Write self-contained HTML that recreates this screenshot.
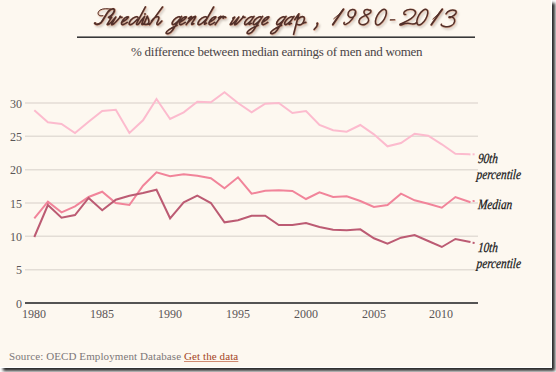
<!DOCTYPE html>
<html><head><meta charset="utf-8">
<style>
html,body{margin:0;padding:0;}
body{width:556px;height:372px;overflow:hidden;background:#fff;position:relative;font-family:"Liberation Serif",serif;}
#card{position:absolute;left:0;top:0;width:551px;height:367px;background:#fdf8f0;border-right:1px solid #fff;border-bottom:1px solid #fff;box-shadow:3px 3px 3px rgba(0,0,0,0.85);}
.t{position:absolute;white-space:nowrap;}
#rule{position:absolute;left:77px;top:37px;width:398px;height:1px;background:#383838;box-shadow:0 -1px 0 rgba(60,60,60,0.6);}
#sub{left:131px;top:43.5px;font-size:13px;letter-spacing:-0.26px;color:#4a4446;}
.yl{font-size:12px;color:#5a5657;text-align:right;width:30px;}
.xl{font-size:12px;color:#5a5657;text-align:center;width:40px;}
.lab{font-size:14px;font-style:italic;color:#161616;-webkit-text-stroke:0.25px #161616;line-height:16px;transform-origin:0 20px;transform:scaleX(0.8) skewX(-6deg);}
#src{left:9px;top:350px;font-size:11px;color:#7c7778;letter-spacing:0.1px;}
#src a{color:#a4461f;text-decoration:underline;text-decoration-color:rgba(200,120,90,0.85);text-underline-offset:1px;}
</style></head><body>
<div id="card"></div>
<svg width="556" height="40" style="position:absolute;left:0;top:0" fill="none" stroke-linecap="round" stroke-linejoin="round">
<g transform="translate(1.5,2)" stroke="rgba(60,40,30,0.28)" style="filter:blur(1px)">
<path d="M332.8,24.6 L343.4,9.2" stroke-width="1.9"/>
<path d="M343.4,9.2 Q338.5,15.5 333.8,18.7" stroke-width="0.8"/>
<path d="M355.6,11.2 C354.6,8.6 350,8.8 348.4,12.2 C347,15.6 349.4,18.2 352.2,17.4 C354.8,16.6 356.2,13.4 355.6,11.2 C355.2,16.5 350.5,22.2 346.2,24.2 C344.6,24.9 343.2,24 344.2,22.4" stroke-width="1.45"/>
<path d="M369.2,10.2 C367.2,8.6 363.6,9.6 364,12.6 C364.5,15.4 369.2,16.8 368.6,20.6 C368.1,24.1 363.2,25.6 360.4,24.1 C357.9,22.6 358.6,19.1 362,17.1 C365.2,15.2 370.6,14.1 370.9,11.6 C371.1,9.9 370.1,9.6 369.2,10.2" stroke-width="1.45"/>
<ellipse cx="380.9" cy="17.1" rx="3.9" ry="8.7" transform="rotate(30 380.9 17.1)" stroke-width="1.45"/>
<path d="M390.3,19.9 L394.7,19.7" stroke-width="1.1"/>
<path d="M405.6,14.4 C403.6,15 403.1,12.6 405,11.2 C407.6,9.2 412.2,8.6 414.6,10.6 C416.8,12.6 415,15.8 411,18.6 C407,21.4 402.2,23 400.4,24 C399.2,24.7 400,25.4 401.8,24.7 C404.5,23.6 407.2,22.8 410.2,23.6 C412.8,24.4 414.8,24.2 416.6,22.6" stroke-width="1.45"/>
<ellipse cx="422.3" cy="17.1" rx="3.9" ry="8.7" transform="rotate(30 422.3 17.1)" stroke-width="1.45"/>
<path d="M431.3,24.7 L442.2,9.2" stroke-width="1.9"/>
<path d="M442.2,9.2 Q437.4,15.4 432.9,19" stroke-width="0.8"/>
<path d="M446,13.9 C447.6,10.6 452.2,9.2 455.1,10.5 C457.8,11.8 455.2,15.6 450.6,17.3 C448.9,17.9 448.4,17.1 449.6,16.7 C453.1,16.5 455.2,18.6 454.6,21.6 C454,25.1 449.6,27.3 445.6,26.7 C442.6,26.3 440.5,25.3 441.4,24.2" stroke-width="1.45"/>
<path d="M109.9,18.2  C111.0,17.2 111.9,16.8 111.5,17.4  L107.3,24.1  C107.0,24.9 107.9,24.8 109.1,24.0  C111.0,22.6 113.6,19.6 115.8,17.0  L111.7,24.0  C111.4,24.9 112.3,24.8 113.5,24.0  C115.4,22.6 118.0,19.6 120.2,17.0  C120.9,16.0 119.8,16.2 119.8,17.0  C120.0,17.6 121.1,17.4 122.0,17.2 M121.5,22.6  C124.2,21.0 127.8,18.6 128.3,17.2  C128.8,16.0 125.3,17.0 123.0,20.0  C120.9,22.8 121.1,24.9 122.9,24.6  C124.2,24.4 125.6,23.6 127.2,22.4 M137.9,17.4  C137.6,16.2 133.9,16.4 130.9,20.0  C128.7,22.8 128.6,24.9 130.4,24.6  C132.2,24.3 135.2,21.6 137.4,19.2 M145.4,6.9 L136.6,23.4 C136.1,24.7 137.2,25 138.6,23.8 C140,22.6 141.6,20 143,18.2 C143.8,17.4 144.3,16.8 144.6,16.3 L141.9,23.6 C141.6,24.6 142.4,24.8 143.6,24 C145,22.6 146.4,17.8 147.3,16.2 C147.6,18 149.4,19.8 148.8,22.2 C148.3,24.2 145.8,25 144.3,24.1 C146,24.6 148,24.4 149.6,23.6 M162.5,7 L149.6,24.6 M151.4,21.2 C153.5,18 156.5,16.5 158.2,16.8 C159.6,17.2 158.5,20 157.2,22.4 C156.4,24.2 157,25.2 158.6,24.2 C159.8,23.4 161,22 161.8,21 M180.1,17.4  C180.0,16.2 176.7,16.4 173.8,20.0  C171.6,22.8 171.6,24.9 173.4,24.6  C175.0,24.3 177.4,22.0 179.4,19.6  M181.5,16.4  L172.5,30.2  C170.0,33.8 166.3,34.4 166.1,32.8  C166.1,31.4 170.7,28.2 177.1,25.2 M179.5,22.6  C182.2,21.0 185.8,18.6 186.3,17.2  C186.8,16.0 183.3,17.0 181.0,20.0  C178.9,22.8 179.1,24.9 180.9,24.6  C182.2,24.4 183.6,23.6 185.2,22.4 M188.6,18.4  C189.8,17.2 191.4,16.2 191.5,16.6  L186.2,24.6  C188.8,21.2 193.6,16.6 195.3,16.4  C196.5,16.3 193.5,20.6 192.0,23.0  C191.0,24.8 192.1,24.8 193.7,23.6 M206.7,17.4  C206.4,16.2 202.7,16.4 199.7,20.0  C197.5,22.8 197.4,24.9 199.2,24.6  C201.0,24.3 204.0,21.6 206.2,19.2  M213.6,7.0  L205.3,21.6  C203.8,24.2 204.0,25.0 206.5,23.2 M209.0,22.6  C211.7,21.0 215.3,18.6 215.8,17.2  C216.3,16.0 212.8,17.0 210.5,20.0  C208.4,22.8 208.6,24.9 210.4,24.6  C211.7,24.4 213.1,23.6 214.7,22.4 M218.5,17.8  C219.8,17.0 220.8,16.2 220.9,16.4  L215.2,24.6  M219.0,19.2  C220.5,17.4 222.4,16.2 223.5,16.4  C224.2,16.6 224.1,17.4 223.6,18.0  C223.2,18.4 222.8,18.0 223.5,17.4  C224.5,16.8 225.4,17.0 225.7,17.4 M232.9,18.2  C234.0,17.2 234.9,16.8 234.5,17.4  L230.3,24.1  C230.0,24.9 230.9,24.8 232.1,24.0  C234.0,22.6 236.6,19.6 238.8,17.0  L234.7,24.0  C234.4,24.9 235.3,24.8 236.5,24.0  C238.4,22.6 241.0,19.6 243.2,17.0  C243.9,16.0 242.8,16.2 242.8,17.0  C243.0,17.6 244.1,17.4 245.0,17.2 M252.8,17.4  C252.7,16.2 249.2,16.4 246.3,20.0  C244.1,22.8 244.1,24.9 245.9,24.6  C247.5,24.3 249.9,22.0 251.9,19.6  M254.0,16.4  L249.7,22.6  C248.3,24.7 248.9,25.0 251.3,23.4 M261.1,17.4  C261.0,16.2 257.7,16.4 254.8,20.0  C252.6,22.8 252.6,24.9 254.4,24.6  C256.0,24.3 258.4,22.0 260.4,19.6  M262.5,16.4  L253.5,30.2  C251.0,33.8 247.3,34.4 247.1,32.8  C247.1,31.4 251.7,28.2 258.1,25.2 M262.0,22.6  C264.7,21.0 268.3,18.6 268.8,17.2  C269.3,16.0 265.8,17.0 263.5,20.0  C261.4,22.8 261.6,24.9 263.4,24.6  C264.7,24.4 266.1,23.6 267.7,22.4 M284.6,17.4  C284.5,16.2 281.2,16.4 278.3,20.0  C276.1,22.8 276.1,24.9 277.9,24.6  C279.5,24.3 281.9,22.0 283.9,19.6  M286.0,16.4  L277.0,30.2  C274.5,33.8 270.8,34.4 270.6,32.8  C270.6,31.4 275.2,28.2 281.6,25.2 M292.8,17.4  C292.7,16.2 289.2,16.4 286.3,20.0  C284.1,22.8 284.1,24.9 285.9,24.6  C287.5,24.3 289.9,22.0 291.9,19.6  M294.0,16.4  L289.7,22.6  C288.3,24.7 288.9,25.0 291.3,23.4 M294.8,19.6 C296,17.8 297.8,15 298.9,13.8 C297.5,19 295,29 293.6,34.2 M297.6,19.5 C299.5,17 302.5,16 303.8,17 C305,18 304,22 302,23.8 C300.5,25 298.5,25 297,24.2 M302.5,23.6 C303.5,23 305,22.5 305.8,22.4 M317.4,23.2 C317.8,25 316.5,27.5 314.2,29.4" stroke-width="1.6"/><path d="M94.7,23.3 C95.8,25 98.5,24.6 101.2,22.4 C103.5,20 105.8,14.6 108.3,11.5 C110,9.6 112.4,8.6 113.8,9 C115,9.6 114.4,12 112.5,14.4 C111.4,15.8 110,16.8 108.6,17.3" stroke-width="1.9"/><path d="M110.6,9.1 C107.6,8.5 103,8.4 100.2,10 C97.8,11.5 97.4,14.2 99.2,15.3 C100.4,16 101.8,15.9 102.8,15.6" stroke-width="1.0"/><circle cx="145.0" cy="14.0" r="0.9" stroke="none" fill="rgba(60,40,30,0.28)"/><circle cx="317.2" cy="23.4" r="0.9" stroke="none" fill="rgba(60,40,30,0.28)"/><circle cx="95.3" cy="23.1" r="0.9" stroke="none" fill="rgba(60,40,30,0.28)"/></g>
<g stroke="rgba(215,140,105,0.55)" transform="translate(0.3,0.3)">
<path d="M332.8,24.6 L343.4,9.2" stroke-width="2.6"/>
<path d="M343.4,9.2 Q338.5,15.5 333.8,18.7" stroke-width="1.4"/>
<path d="M355.6,11.2 C354.6,8.6 350,8.8 348.4,12.2 C347,15.6 349.4,18.2 352.2,17.4 C354.8,16.6 356.2,13.4 355.6,11.2 C355.2,16.5 350.5,22.2 346.2,24.2 C344.6,24.9 343.2,24 344.2,22.4" stroke-width="2.2"/>
<path d="M369.2,10.2 C367.2,8.6 363.6,9.6 364,12.6 C364.5,15.4 369.2,16.8 368.6,20.6 C368.1,24.1 363.2,25.6 360.4,24.1 C357.9,22.6 358.6,19.1 362,17.1 C365.2,15.2 370.6,14.1 370.9,11.6 C371.1,9.9 370.1,9.6 369.2,10.2" stroke-width="2.2"/>
<ellipse cx="380.9" cy="17.1" rx="3.9" ry="8.7" transform="rotate(30 380.9 17.1)" stroke-width="2.2"/>
<path d="M390.3,19.9 L394.7,19.7" stroke-width="1.8"/>
<path d="M405.6,14.4 C403.6,15 403.1,12.6 405,11.2 C407.6,9.2 412.2,8.6 414.6,10.6 C416.8,12.6 415,15.8 411,18.6 C407,21.4 402.2,23 400.4,24 C399.2,24.7 400,25.4 401.8,24.7 C404.5,23.6 407.2,22.8 410.2,23.6 C412.8,24.4 414.8,24.2 416.6,22.6" stroke-width="2.2"/>
<ellipse cx="422.3" cy="17.1" rx="3.9" ry="8.7" transform="rotate(30 422.3 17.1)" stroke-width="2.2"/>
<path d="M431.3,24.7 L442.2,9.2" stroke-width="2.6"/>
<path d="M442.2,9.2 Q437.4,15.4 432.9,19" stroke-width="1.4"/>
<path d="M446,13.9 C447.6,10.6 452.2,9.2 455.1,10.5 C457.8,11.8 455.2,15.6 450.6,17.3 C448.9,17.9 448.4,17.1 449.6,16.7 C453.1,16.5 455.2,18.6 454.6,21.6 C454,25.1 449.6,27.3 445.6,26.7 C442.6,26.3 440.5,25.3 441.4,24.2" stroke-width="2.2"/>
<path d="M109.9,18.2  C111.0,17.2 111.9,16.8 111.5,17.4  L107.3,24.1  C107.0,24.9 107.9,24.8 109.1,24.0  C111.0,22.6 113.6,19.6 115.8,17.0  L111.7,24.0  C111.4,24.9 112.3,24.8 113.5,24.0  C115.4,22.6 118.0,19.6 120.2,17.0  C120.9,16.0 119.8,16.2 119.8,17.0  C120.0,17.6 121.1,17.4 122.0,17.2 M121.5,22.6  C124.2,21.0 127.8,18.6 128.3,17.2  C128.8,16.0 125.3,17.0 123.0,20.0  C120.9,22.8 121.1,24.9 122.9,24.6  C124.2,24.4 125.6,23.6 127.2,22.4 M137.9,17.4  C137.6,16.2 133.9,16.4 130.9,20.0  C128.7,22.8 128.6,24.9 130.4,24.6  C132.2,24.3 135.2,21.6 137.4,19.2 M145.4,6.9 L136.6,23.4 C136.1,24.7 137.2,25 138.6,23.8 C140,22.6 141.6,20 143,18.2 C143.8,17.4 144.3,16.8 144.6,16.3 L141.9,23.6 C141.6,24.6 142.4,24.8 143.6,24 C145,22.6 146.4,17.8 147.3,16.2 C147.6,18 149.4,19.8 148.8,22.2 C148.3,24.2 145.8,25 144.3,24.1 C146,24.6 148,24.4 149.6,23.6 M162.5,7 L149.6,24.6 M151.4,21.2 C153.5,18 156.5,16.5 158.2,16.8 C159.6,17.2 158.5,20 157.2,22.4 C156.4,24.2 157,25.2 158.6,24.2 C159.8,23.4 161,22 161.8,21 M180.1,17.4  C180.0,16.2 176.7,16.4 173.8,20.0  C171.6,22.8 171.6,24.9 173.4,24.6  C175.0,24.3 177.4,22.0 179.4,19.6  M181.5,16.4  L172.5,30.2  C170.0,33.8 166.3,34.4 166.1,32.8  C166.1,31.4 170.7,28.2 177.1,25.2 M179.5,22.6  C182.2,21.0 185.8,18.6 186.3,17.2  C186.8,16.0 183.3,17.0 181.0,20.0  C178.9,22.8 179.1,24.9 180.9,24.6  C182.2,24.4 183.6,23.6 185.2,22.4 M188.6,18.4  C189.8,17.2 191.4,16.2 191.5,16.6  L186.2,24.6  C188.8,21.2 193.6,16.6 195.3,16.4  C196.5,16.3 193.5,20.6 192.0,23.0  C191.0,24.8 192.1,24.8 193.7,23.6 M206.7,17.4  C206.4,16.2 202.7,16.4 199.7,20.0  C197.5,22.8 197.4,24.9 199.2,24.6  C201.0,24.3 204.0,21.6 206.2,19.2  M213.6,7.0  L205.3,21.6  C203.8,24.2 204.0,25.0 206.5,23.2 M209.0,22.6  C211.7,21.0 215.3,18.6 215.8,17.2  C216.3,16.0 212.8,17.0 210.5,20.0  C208.4,22.8 208.6,24.9 210.4,24.6  C211.7,24.4 213.1,23.6 214.7,22.4 M218.5,17.8  C219.8,17.0 220.8,16.2 220.9,16.4  L215.2,24.6  M219.0,19.2  C220.5,17.4 222.4,16.2 223.5,16.4  C224.2,16.6 224.1,17.4 223.6,18.0  C223.2,18.4 222.8,18.0 223.5,17.4  C224.5,16.8 225.4,17.0 225.7,17.4 M232.9,18.2  C234.0,17.2 234.9,16.8 234.5,17.4  L230.3,24.1  C230.0,24.9 230.9,24.8 232.1,24.0  C234.0,22.6 236.6,19.6 238.8,17.0  L234.7,24.0  C234.4,24.9 235.3,24.8 236.5,24.0  C238.4,22.6 241.0,19.6 243.2,17.0  C243.9,16.0 242.8,16.2 242.8,17.0  C243.0,17.6 244.1,17.4 245.0,17.2 M252.8,17.4  C252.7,16.2 249.2,16.4 246.3,20.0  C244.1,22.8 244.1,24.9 245.9,24.6  C247.5,24.3 249.9,22.0 251.9,19.6  M254.0,16.4  L249.7,22.6  C248.3,24.7 248.9,25.0 251.3,23.4 M261.1,17.4  C261.0,16.2 257.7,16.4 254.8,20.0  C252.6,22.8 252.6,24.9 254.4,24.6  C256.0,24.3 258.4,22.0 260.4,19.6  M262.5,16.4  L253.5,30.2  C251.0,33.8 247.3,34.4 247.1,32.8  C247.1,31.4 251.7,28.2 258.1,25.2 M262.0,22.6  C264.7,21.0 268.3,18.6 268.8,17.2  C269.3,16.0 265.8,17.0 263.5,20.0  C261.4,22.8 261.6,24.9 263.4,24.6  C264.7,24.4 266.1,23.6 267.7,22.4 M284.6,17.4  C284.5,16.2 281.2,16.4 278.3,20.0  C276.1,22.8 276.1,24.9 277.9,24.6  C279.5,24.3 281.9,22.0 283.9,19.6  M286.0,16.4  L277.0,30.2  C274.5,33.8 270.8,34.4 270.6,32.8  C270.6,31.4 275.2,28.2 281.6,25.2 M292.8,17.4  C292.7,16.2 289.2,16.4 286.3,20.0  C284.1,22.8 284.1,24.9 285.9,24.6  C287.5,24.3 289.9,22.0 291.9,19.6  M294.0,16.4  L289.7,22.6  C288.3,24.7 288.9,25.0 291.3,23.4 M294.8,19.6 C296,17.8 297.8,15 298.9,13.8 C297.5,19 295,29 293.6,34.2 M297.6,19.5 C299.5,17 302.5,16 303.8,17 C305,18 304,22 302,23.8 C300.5,25 298.5,25 297,24.2 M302.5,23.6 C303.5,23 305,22.5 305.8,22.4 M317.4,23.2 C317.8,25 316.5,27.5 314.2,29.4" stroke-width="2.4000000000000004"/><path d="M94.7,23.3 C95.8,25 98.5,24.6 101.2,22.4 C103.5,20 105.8,14.6 108.3,11.5 C110,9.6 112.4,8.6 113.8,9 C115,9.6 114.4,12 112.5,14.4 C111.4,15.8 110,16.8 108.6,17.3" stroke-width="2.7"/><path d="M110.6,9.1 C107.6,8.5 103,8.4 100.2,10 C97.8,11.5 97.4,14.2 99.2,15.3 C100.4,16 101.8,15.9 102.8,15.6" stroke-width="1.8"/><circle cx="145.0" cy="14.0" r="1.3" stroke="none" fill="rgba(215,140,105,0.55)"/><circle cx="317.2" cy="23.4" r="1.3" stroke="none" fill="rgba(215,140,105,0.55)"/><circle cx="95.3" cy="23.1" r="1.3" stroke="none" fill="rgba(215,140,105,0.55)"/></g>
<g stroke="#52302a">
<path d="M332.8,24.6 L343.4,9.2" stroke-width="1.9"/>
<path d="M343.4,9.2 Q338.5,15.5 333.8,18.7" stroke-width="0.8"/>
<path d="M355.6,11.2 C354.6,8.6 350,8.8 348.4,12.2 C347,15.6 349.4,18.2 352.2,17.4 C354.8,16.6 356.2,13.4 355.6,11.2 C355.2,16.5 350.5,22.2 346.2,24.2 C344.6,24.9 343.2,24 344.2,22.4" stroke-width="1.45"/>
<path d="M369.2,10.2 C367.2,8.6 363.6,9.6 364,12.6 C364.5,15.4 369.2,16.8 368.6,20.6 C368.1,24.1 363.2,25.6 360.4,24.1 C357.9,22.6 358.6,19.1 362,17.1 C365.2,15.2 370.6,14.1 370.9,11.6 C371.1,9.9 370.1,9.6 369.2,10.2" stroke-width="1.45"/>
<ellipse cx="380.9" cy="17.1" rx="3.9" ry="8.7" transform="rotate(30 380.9 17.1)" stroke-width="1.45"/>
<path d="M390.3,19.9 L394.7,19.7" stroke-width="1.1"/>
<path d="M405.6,14.4 C403.6,15 403.1,12.6 405,11.2 C407.6,9.2 412.2,8.6 414.6,10.6 C416.8,12.6 415,15.8 411,18.6 C407,21.4 402.2,23 400.4,24 C399.2,24.7 400,25.4 401.8,24.7 C404.5,23.6 407.2,22.8 410.2,23.6 C412.8,24.4 414.8,24.2 416.6,22.6" stroke-width="1.45"/>
<ellipse cx="422.3" cy="17.1" rx="3.9" ry="8.7" transform="rotate(30 422.3 17.1)" stroke-width="1.45"/>
<path d="M431.3,24.7 L442.2,9.2" stroke-width="1.9"/>
<path d="M442.2,9.2 Q437.4,15.4 432.9,19" stroke-width="0.8"/>
<path d="M446,13.9 C447.6,10.6 452.2,9.2 455.1,10.5 C457.8,11.8 455.2,15.6 450.6,17.3 C448.9,17.9 448.4,17.1 449.6,16.7 C453.1,16.5 455.2,18.6 454.6,21.6 C454,25.1 449.6,27.3 445.6,26.7 C442.6,26.3 440.5,25.3 441.4,24.2" stroke-width="1.45"/>
<path d="M109.9,18.2  C111.0,17.2 111.9,16.8 111.5,17.4  L107.3,24.1  C107.0,24.9 107.9,24.8 109.1,24.0  C111.0,22.6 113.6,19.6 115.8,17.0  L111.7,24.0  C111.4,24.9 112.3,24.8 113.5,24.0  C115.4,22.6 118.0,19.6 120.2,17.0  C120.9,16.0 119.8,16.2 119.8,17.0  C120.0,17.6 121.1,17.4 122.0,17.2 M121.5,22.6  C124.2,21.0 127.8,18.6 128.3,17.2  C128.8,16.0 125.3,17.0 123.0,20.0  C120.9,22.8 121.1,24.9 122.9,24.6  C124.2,24.4 125.6,23.6 127.2,22.4 M137.9,17.4  C137.6,16.2 133.9,16.4 130.9,20.0  C128.7,22.8 128.6,24.9 130.4,24.6  C132.2,24.3 135.2,21.6 137.4,19.2 M145.4,6.9 L136.6,23.4 C136.1,24.7 137.2,25 138.6,23.8 C140,22.6 141.6,20 143,18.2 C143.8,17.4 144.3,16.8 144.6,16.3 L141.9,23.6 C141.6,24.6 142.4,24.8 143.6,24 C145,22.6 146.4,17.8 147.3,16.2 C147.6,18 149.4,19.8 148.8,22.2 C148.3,24.2 145.8,25 144.3,24.1 C146,24.6 148,24.4 149.6,23.6 M162.5,7 L149.6,24.6 M151.4,21.2 C153.5,18 156.5,16.5 158.2,16.8 C159.6,17.2 158.5,20 157.2,22.4 C156.4,24.2 157,25.2 158.6,24.2 C159.8,23.4 161,22 161.8,21 M180.1,17.4  C180.0,16.2 176.7,16.4 173.8,20.0  C171.6,22.8 171.6,24.9 173.4,24.6  C175.0,24.3 177.4,22.0 179.4,19.6  M181.5,16.4  L172.5,30.2  C170.0,33.8 166.3,34.4 166.1,32.8  C166.1,31.4 170.7,28.2 177.1,25.2 M179.5,22.6  C182.2,21.0 185.8,18.6 186.3,17.2  C186.8,16.0 183.3,17.0 181.0,20.0  C178.9,22.8 179.1,24.9 180.9,24.6  C182.2,24.4 183.6,23.6 185.2,22.4 M188.6,18.4  C189.8,17.2 191.4,16.2 191.5,16.6  L186.2,24.6  C188.8,21.2 193.6,16.6 195.3,16.4  C196.5,16.3 193.5,20.6 192.0,23.0  C191.0,24.8 192.1,24.8 193.7,23.6 M206.7,17.4  C206.4,16.2 202.7,16.4 199.7,20.0  C197.5,22.8 197.4,24.9 199.2,24.6  C201.0,24.3 204.0,21.6 206.2,19.2  M213.6,7.0  L205.3,21.6  C203.8,24.2 204.0,25.0 206.5,23.2 M209.0,22.6  C211.7,21.0 215.3,18.6 215.8,17.2  C216.3,16.0 212.8,17.0 210.5,20.0  C208.4,22.8 208.6,24.9 210.4,24.6  C211.7,24.4 213.1,23.6 214.7,22.4 M218.5,17.8  C219.8,17.0 220.8,16.2 220.9,16.4  L215.2,24.6  M219.0,19.2  C220.5,17.4 222.4,16.2 223.5,16.4  C224.2,16.6 224.1,17.4 223.6,18.0  C223.2,18.4 222.8,18.0 223.5,17.4  C224.5,16.8 225.4,17.0 225.7,17.4 M232.9,18.2  C234.0,17.2 234.9,16.8 234.5,17.4  L230.3,24.1  C230.0,24.9 230.9,24.8 232.1,24.0  C234.0,22.6 236.6,19.6 238.8,17.0  L234.7,24.0  C234.4,24.9 235.3,24.8 236.5,24.0  C238.4,22.6 241.0,19.6 243.2,17.0  C243.9,16.0 242.8,16.2 242.8,17.0  C243.0,17.6 244.1,17.4 245.0,17.2 M252.8,17.4  C252.7,16.2 249.2,16.4 246.3,20.0  C244.1,22.8 244.1,24.9 245.9,24.6  C247.5,24.3 249.9,22.0 251.9,19.6  M254.0,16.4  L249.7,22.6  C248.3,24.7 248.9,25.0 251.3,23.4 M261.1,17.4  C261.0,16.2 257.7,16.4 254.8,20.0  C252.6,22.8 252.6,24.9 254.4,24.6  C256.0,24.3 258.4,22.0 260.4,19.6  M262.5,16.4  L253.5,30.2  C251.0,33.8 247.3,34.4 247.1,32.8  C247.1,31.4 251.7,28.2 258.1,25.2 M262.0,22.6  C264.7,21.0 268.3,18.6 268.8,17.2  C269.3,16.0 265.8,17.0 263.5,20.0  C261.4,22.8 261.6,24.9 263.4,24.6  C264.7,24.4 266.1,23.6 267.7,22.4 M284.6,17.4  C284.5,16.2 281.2,16.4 278.3,20.0  C276.1,22.8 276.1,24.9 277.9,24.6  C279.5,24.3 281.9,22.0 283.9,19.6  M286.0,16.4  L277.0,30.2  C274.5,33.8 270.8,34.4 270.6,32.8  C270.6,31.4 275.2,28.2 281.6,25.2 M292.8,17.4  C292.7,16.2 289.2,16.4 286.3,20.0  C284.1,22.8 284.1,24.9 285.9,24.6  C287.5,24.3 289.9,22.0 291.9,19.6  M294.0,16.4  L289.7,22.6  C288.3,24.7 288.9,25.0 291.3,23.4 M294.8,19.6 C296,17.8 297.8,15 298.9,13.8 C297.5,19 295,29 293.6,34.2 M297.6,19.5 C299.5,17 302.5,16 303.8,17 C305,18 304,22 302,23.8 C300.5,25 298.5,25 297,24.2 M302.5,23.6 C303.5,23 305,22.5 305.8,22.4 M317.4,23.2 C317.8,25 316.5,27.5 314.2,29.4" stroke-width="1.6"/><path d="M94.7,23.3 C95.8,25 98.5,24.6 101.2,22.4 C103.5,20 105.8,14.6 108.3,11.5 C110,9.6 112.4,8.6 113.8,9 C115,9.6 114.4,12 112.5,14.4 C111.4,15.8 110,16.8 108.6,17.3" stroke-width="1.9"/><path d="M110.6,9.1 C107.6,8.5 103,8.4 100.2,10 C97.8,11.5 97.4,14.2 99.2,15.3 C100.4,16 101.8,15.9 102.8,15.6" stroke-width="1.0"/><circle cx="145.0" cy="14.0" r="0.9" stroke="none" fill="#52302a"/><circle cx="317.2" cy="23.4" r="0.9" stroke="none" fill="#52302a"/><circle cx="95.3" cy="23.1" r="0.9" stroke="none" fill="#52302a"/></g>
</svg>
<div id="rule"></div>
<div class="t" id="sub">% difference between median earnings of men and women</div>
<svg width="556" height="372" style="position:absolute;left:0;top:0">
<g stroke="#e3ddd6" stroke-width="1.5">
<line x1="25" x2="478" y1="103" y2="103"/>
<line x1="25" x2="478" y1="136.3" y2="136.3"/>
<line x1="25" x2="478" y1="169.7" y2="169.7"/>
<line x1="25" x2="478" y1="203" y2="203"/>
<line x1="25" x2="478" y1="236.3" y2="236.3"/>
<line x1="25" x2="478" y1="269.7" y2="269.7"/>
</g>
<line x1="25" x2="478" y1="303" y2="303" stroke="#545454" stroke-width="1.9"/>
<g fill="none" stroke-width="2" stroke-linejoin="miter">
<polyline stroke="#fcbbce" points="34.3,110.3 47.9,122.3 61.5,124.0 75.0,133.0 88.6,121.7 102.2,111.0 115.8,109.7 129.4,133.0 143.0,120.3 156.5,99.0 170.1,119.0 183.7,112.3 197.3,101.7 210.9,102.3 224.5,92.3 238.0,103.0 251.6,112.3 265.2,103.7 278.8,103.0 292.4,113.0 306.0,111.0 319.5,125.0 333.1,130.3 346.7,131.7 360.3,125.0 373.9,134.3 387.5,146.3 401.0,143.0 414.6,133.7 428.2,135.7 441.8,144.3 455.4,153.7 469.0,154.3 470.5,154.4"/>
<polyline stroke="#f1849a" points="34.3,218.3 47.9,201.7 61.5,212.3 75.0,206.3 88.6,197.0 102.2,191.7 115.8,203.0 129.4,205.0 143.0,185.7 156.5,172.3 170.1,176.3 183.7,174.3 197.3,175.7 210.9,178.3 224.5,188.3 238.0,177.3 251.6,193.7 265.2,190.7 278.8,190.3 292.4,191.0 306.0,199.0 319.5,192.3 333.1,197.0 346.7,196.3 360.3,201.0 373.9,207.0 387.5,205.0 401.0,193.7 414.6,200.3 428.2,203.7 441.8,207.7 455.4,197.0 469.0,201.7 470.5,202.2"/>
<polyline stroke="#bc5b73" points="34.3,237.0 47.9,205.0 61.5,217.7 75.0,215.0 88.6,198.0 102.2,210.3 115.8,199.7 129.4,195.7 143.0,193.0 156.5,189.7 170.1,218.3 183.7,202.3 197.3,195.7 210.9,203.0 224.5,222.3 238.0,220.3 251.6,215.7 265.2,215.7 278.8,225.0 292.4,225.0 306.0,223.0 319.5,227.0 333.1,229.7 346.7,230.3 360.3,229.3 373.9,238.3 387.5,243.7 401.0,237.7 414.6,235.0 428.2,241.0 441.8,247.0 455.4,239.0 469.0,241.7 470.5,242.0"/>
<polyline stroke="#fcbbce" points="472.6,154.3 474.6,154.3"/>
<polyline stroke="#f1849a" points="472.6,201.1 474.6,200.9"/>
<polyline stroke="#bc5b73" points="472.6,242.8 474.6,243"/>
</g>
</svg>
<div class="t yl" style="left:-8px;top:96.5px">30</div>
<div class="t yl" style="left:-8px;top:129.5px">25</div>
<div class="t yl" style="left:-8px;top:163px">20</div>
<div class="t yl" style="left:-8px;top:196.5px">15</div>
<div class="t yl" style="left:-8px;top:229.5px">10</div>
<div class="t yl" style="left:-8px;top:263px">5</div>
<div class="t yl" style="left:-8px;top:296.5px">0</div>
<div class="t xl" style="left:14px;top:306.5px">1980</div>
<div class="t xl" style="left:82px;top:306.5px">1985</div>
<div class="t xl" style="left:150px;top:306.5px">1990</div>
<div class="t xl" style="left:218px;top:306.5px">1995</div>
<div class="t xl" style="left:286px;top:306.5px">2000</div>
<div class="t xl" style="left:354px;top:306.5px">2005</div>
<div class="t xl" style="left:421px;top:306.5px">2010</div>
<div class="t lab" style="left:476.5px;top:151px">90th<br>percentile</div>
<div class="t lab" style="left:476.5px;top:197px">Median</div>
<div class="t lab" style="left:476.5px;top:239.5px">10th<br>percentile</div>
<div class="t" id="src">Source: OECD Employment Database <a>Get the data</a></div>
</body></html>
